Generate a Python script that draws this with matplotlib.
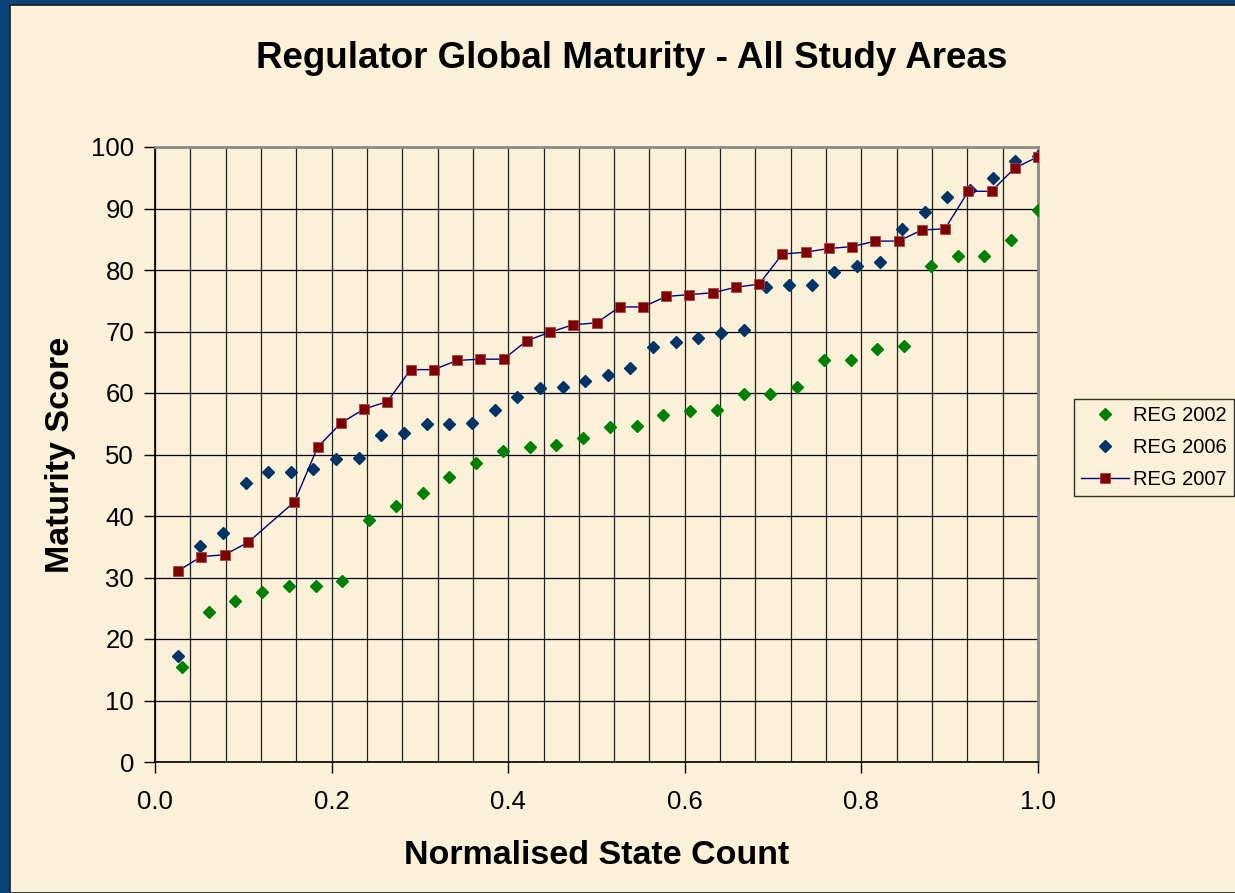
import matplotlib.pyplot as plt
import numpy as np
from matplotlib.patches import Rectangle
from matplotlib.ticker import MultipleLocator

plt.rcParams['font.family'] = ['Liberation Sans', 'DejaVu Sans']

# Datos (maturity score ordenado por estado)
reg2002 = [15.4, 24.4, 26.2, 27.7, 28.6, 28.6, 29.4, 39.3, 41.6, 43.7, 46.3,
           48.6, 50.6, 51.3, 51.5, 52.7, 54.4, 54.7, 56.4, 57.0, 57.3, 59.8,
           59.8, 61.0, 65.4, 65.4, 67.1, 67.7, 80.7, 82.2, 82.2, 84.8, 89.8]
reg2006 = [17.3, 35.2, 37.3, 45.4, 47.1, 47.1, 47.6, 49.2, 49.5, 53.2, 53.5,
           55.0, 55.0, 55.2, 57.3, 59.3, 60.8, 61.0, 62.0, 63.0, 64.0, 67.4,
           68.3, 68.9, 69.8, 70.3, 77.3, 77.6, 77.6, 79.6, 80.7, 81.3, 86.6,
           89.5, 91.8, 93.0, 95.0, 97.8, 98.6]
# 2007: 38 estados, el numero 5 no aparece
n_2007 = 38
rank2007 = [1, 2, 3, 4, 6, 7, 8, 9, 10, 11, 12, 13, 14, 15, 16, 17, 18, 19, 20,
            21, 22, 23, 24, 25, 26, 27, 28, 29, 30, 31, 32, 33, 34, 35, 36, 37, 38]
reg2007 = [31.1, 33.4, 33.7, 35.7, 42.3, 51.2, 55.1, 57.4, 58.6, 63.8, 63.8,
           65.3, 65.5, 65.5, 68.5, 69.9, 71.1, 71.4, 74.0, 74.0, 75.7, 76.0,
           76.3, 77.2, 77.7, 82.6, 82.9, 83.5, 83.8, 84.7, 84.7, 86.5, 86.7,
           92.8, 92.8, 96.6, 98.4]

x2002 = np.arange(1, len(reg2002) + 1) / len(reg2002)
x2006 = np.arange(1, len(reg2006) + 1) / len(reg2006)
x2007 = np.array(rank2007) / n_2007

fondo = '#FBF0D8'
borde = '#0A4478'

fig = plt.figure(figsize=(12.35, 8.93), dpi=100, facecolor=borde)
# zona pergamino
fig.patches.append(Rectangle((10 / 1235, 0), 1, 1 - 5 / 893, transform=fig.transFigure,
                             facecolor=fondo, edgecolor='#1a1a1a', linewidth=1.2, zorder=-10))

ax = fig.add_axes([155 / 1235, 1 - 762 / 893, (1038 - 155) / 1235, (762 - 147) / 893])
ax.set_facecolor('none')

ax.plot(x2002, reg2002, linestyle='none', marker='D', markersize=6.3,
        color='#008000', label='REG 2002', zorder=3)
ax.plot(x2006, reg2006, linestyle='none', marker='D', markersize=6.3,
        color='#003366', label='REG 2006', zorder=4)
ax.plot(x2007, reg2007, linestyle='-', linewidth=1.0, color='#000080',
        marker='s', markersize=7.5, markerfacecolor='#800000',
        markeredgecolor='#A04848', markeredgewidth=0.6, label='REG 2007', zorder=5)

ax.set_xlim(0, 1)
ax.set_ylim(0, 100)
ax.xaxis.set_major_locator(MultipleLocator(0.2))
ax.xaxis.set_minor_locator(MultipleLocator(0.04))
ax.yaxis.set_major_locator(MultipleLocator(10))
ax.set_xticks(np.arange(0, 1.01, 0.2))
ax.set_xticklabels([f"{v:.1f}" for v in np.arange(0, 1.01, 0.2)])

ax.grid(which='minor', axis='x', color='#222222', linewidth=0.9, zorder=1)
ax.grid(which='major', axis='x', color='#222222', linewidth=0.9, zorder=1)
ax.grid(which='major', axis='y', color='black', linewidth=0.9, zorder=1)
ax.set_axisbelow(True)

ax.tick_params(axis='x', which='major', direction='out', length=8, width=1,
               labelsize=18.5, pad=12)
ax.tick_params(axis='x', which='minor', length=0)
ax.tick_params(axis='y', which='major', direction='out', length=8, width=1,
               labelsize=18.5, pad=7)

for lado in ['left', 'bottom']:
    ax.spines[lado].set_color('black')
    ax.spines[lado].set_linewidth(1.2)
for lado in ['top', 'right']:
    ax.spines[lado].set_color('#8a8a8a')
    ax.spines[lado].set_linewidth(2)

ax.set_xlabel("Normalised State Count", fontsize=24.5, fontweight='bold', labelpad=19)
ax.set_ylabel("Maturity Score", fontsize=24.5, fontweight='bold', labelpad=11)
fig.text(632 / 1235, 1 - 58 / 893, "Regulator Global Maturity - All Study Areas",
         fontsize=26.5, fontweight='bold', ha='center', va='center')

# leyenda pegada al borde derecho (en el original queda cortada)
leg = ax.legend(loc='upper left', bbox_to_anchor=(1074 / 1235, 1 - 399 / 893),
                bbox_transform=fig.transFigure, fontsize=14.5, frameon=True,
                fancybox=False, borderpad=0.35, labelspacing=0.65,
                handlelength=2.4, handletextpad=0.2, numpoints=1, borderaxespad=0)
leg.get_frame().set_edgecolor('black')
leg.get_frame().set_linewidth(1.0)
leg.get_frame().set_facecolor('none')

plt.savefig('out.png', dpi=100, facecolor=fig.get_facecolor())
